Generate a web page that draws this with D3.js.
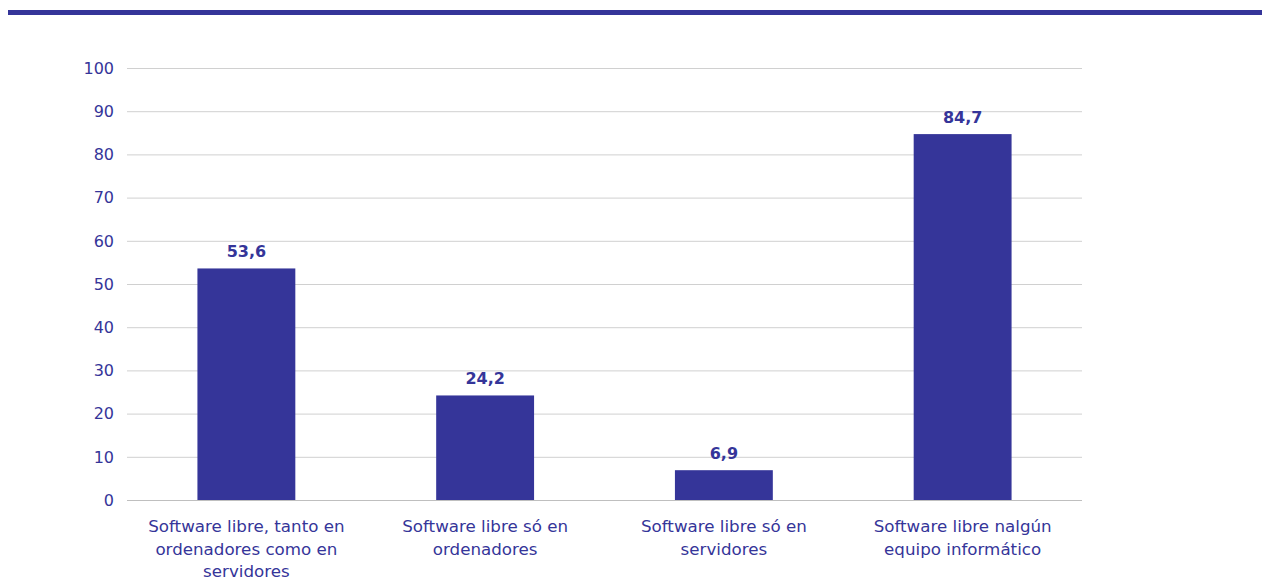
<!DOCTYPE html>
<html>
<head>
<meta charset="utf-8">
<script src="https://cdn.jsdelivr.net/npm/d3@7"></script>
<style>
  body { margin: 0; background: #fff; }
  svg text { font-family: Verdana, "DejaVu Sans", sans-serif; fill: #353599; }
</style>
</head>
<body>
<div id="chart"></div>
<script>
// categories (wrapped label lines) and values
var categories = [
  ["Software libre, tanto en", "ordenadores como en", "servidores"],
  ["Software libre só en", "ordenadores"],
  ["Software libre só en", "servidores"],
  ["Software libre nalgún", "equipo informático"]
];
var values = [53.6, 24.2, 6.9, 84.7];
var yTicks = [0, 10, 20, 30, 40, 50, 60, 70, 80, 90, 100];

var width = 1268, height = 581;
var barColor = "#353599";

var svg = d3.select("#chart").append("svg")
    .attr("width", width)
    .attr("height", height);

// top rule
svg.append("rect")
    .attr("x", 8).attr("y", 10)
    .attr("width", 1254).attr("height", 5)
    .attr("fill", barColor);

var x = d3.scaleBand()
    .domain(d3.range(values.length))
    .range([127, 1082])
    .paddingInner(0.59)
    .paddingOuter(0.295);

var y = d3.scaleLinear()
    .domain([0, 100])
    .range([500, 68]);

// gridlines
svg.append("g")
  .selectAll("line")
    .data(yTicks)
  .enter().append("line")
    .attr("x1", 127).attr("x2", 1082)
    .attr("y1", function(d) { return y(d) + 0.5; })
    .attr("y2", function(d) { return y(d) + 0.5; })
    .attr("stroke", function(d) { return d === 0 ? "#bfbfbf" : "#d0d0d0"; })
    .attr("stroke-width", 1);

// y tick labels
svg.append("g")
  .selectAll("text")
    .data(yTicks)
  .enter().append("text")
    .attr("x", 114)
    .attr("y", function(d) { return y(d); })
    .attr("dy", "0.36em")
    .attr("text-anchor", "end")
    .style("font-size", "16px")
    .text(function(d) { return d; });

// bars
svg.append("g")
  .selectAll("rect")
    .data(values)
  .enter().append("rect")
    .attr("x", function(d, i) { return x(i); })
    .attr("y", function(d) { return y(d); })
    .attr("width", x.bandwidth())
    .attr("height", function(d) { return y(0) - y(d); })
    .attr("fill", barColor);

// value labels
svg.append("g")
  .selectAll("text")
    .data(values)
  .enter().append("text")
    .attr("x", function(d, i) { return x(i) + x.bandwidth() / 2; })
    .attr("y", function(d) { return y(d) - 11; })
    .attr("text-anchor", "middle")
    .style("font-size", "16px")
    .style("font-weight", "bold")
    .text(function(d) { return d.toFixed(1).replace(".", ","); });

// category labels
var cat = svg.append("g")
  .selectAll("text")
    .data(categories)
  .enter().append("text")
    .attr("text-anchor", "middle")
    .style("font-size", "16.7px")
    .attr("transform", function(d, i) { return "translate(" + (x(i) + x.bandwidth() / 2) + ",532)"; });

cat.selectAll("tspan")
    .data(function(d) { return d; })
  .enter().append("tspan")
    .attr("x", 0)
    .attr("y", function(d, j) { return j * 22.5; })
    .text(function(d) { return d; });
</script>
</body>
</html>
